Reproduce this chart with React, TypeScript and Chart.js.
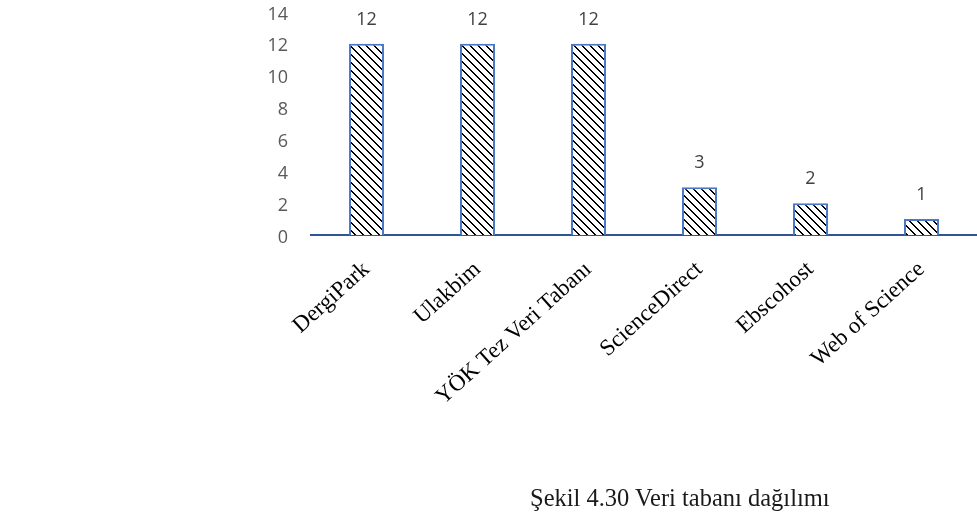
import React, { useEffect, useRef } from "react";
import { Chart, registerables } from "chart.js";

Chart.register(...registerables);

const categories = ["DergiPark", "Ulakbim", "YÖK Tez Veri Tabanı", "ScienceDirect", "Ebscohost", "Web of Science"];
const counts = [12, 12, 12, 3, 2, 1];
const yMin = 0;
const yMax = 14;
const yStep = 2;
const caption = "Şekil 4.30 Veri tabanı dağılımı";

function makeHatch(ctx: CanvasRenderingContext2D) {
  const n = 8;
  const c = document.createElement("canvas");
  c.width = n;
  c.height = n;
  const g = c.getContext("2d")!;
  g.fillStyle = "#ffffff";
  g.fillRect(0, 0, n, n);
  g.fillStyle = "#000000";
  for (let y = 0; y < n; y++) {
    g.fillRect(y % n, y, 1, 1);
    g.fillRect((y + 1) % n, y, 1, 1);
  }
  return ctx.createPattern(c, "repeat")!;
}

const valueLabels = {
  id: "valueLabels",
  afterDatasetsDraw(chart: any) {
    const ctx = chart.ctx;
    const meta = chart.getDatasetMeta(0);
    ctx.save();
    ctx.font = "18px 'Open Sans'";
    ctx.fillStyle = "#404040";
    ctx.textAlign = "center";
    ctx.textBaseline = "alphabetic";
    meta.data.forEach((bar: any, i: number) => {
      ctx.fillText(String(chart.data.datasets[0].data[i]), bar.x, bar.y - 19);
    });
    ctx.restore();
  },
};

export default function App() {
  const ref = useRef<HTMLCanvasElement>(null);
  useEffect(() => {
    document.body.style.margin = "0";
    const canvas = ref.current!;
    const ctx = canvas.getContext("2d")!;
    const hatch = makeHatch(ctx);
    const chart = new Chart(ctx, {
      type: "bar",
      data: {
        labels: categories,
        datasets: [
          {
            data: counts,
            backgroundColor: hatch as any,
            borderColor: "#4A78C6",
            borderWidth: 2,
            borderSkipped: "bottom",
            barPercentage: 0.315,
            categoryPercentage: 1,
          },
        ],
      },
      options: {
        animation: false,
        responsive: false,
        maintainAspectRatio: false,
        layout: { padding: { top: 12, right: 0, left: 0, bottom: 0 } },
        plugins: { legend: { display: false }, tooltip: { enabled: false }, title: { display: false } },
        scales: {
          x: {
            grid: { display: false, drawTicks: false },
            border: { display: true, color: "#2F5597", width: 2 },
            ticks: {
              minRotation: 42,
              maxRotation: 42,
              padding: 21,
              color: "#000000",
              font: { family: "'Liberation Serif'", size: 23 },
            },
            afterFit: (s: any) => {
              s.height = 294;
              s.paddingLeft = 0;
              s.paddingRight = 0;
            },
          },
          y: {
            min: yMin,
            max: yMax,
            grid: { display: false, drawTicks: false },
            border: { display: false },
            ticks: {
              stepSize: yStep,
              padding: 23,
              labelOffset: 2.5,
              color: "#595959",
              font: { family: "'Open Sans'", size: 18 },
            },
            afterFit: (s: any) => {
              s.width = 311;
              s.paddingTop = 0;
              s.paddingBottom = 0;
            },
          },
        },
      },
      plugins: [valueLabels],
    });
    return () => chart.destroy();
  }, []);
  return (
    <div style={{ position: "relative", width: 977, height: 529, background: "#ffffff" }}>
      <canvas ref={ref} width={977} height={529} style={{ position: "absolute", left: 0, top: 0 }} />
      <div
        style={{
          position: "absolute",
          left: 530,
          top: 484,
          fontFamily: "'Liberation Serif', serif",
          fontSize: 24.5,
          lineHeight: "28px",
          color: "#1a1a1a",
          whiteSpace: "nowrap",
        }}
      >
        {caption}
      </div>
    </div>
  );
}
